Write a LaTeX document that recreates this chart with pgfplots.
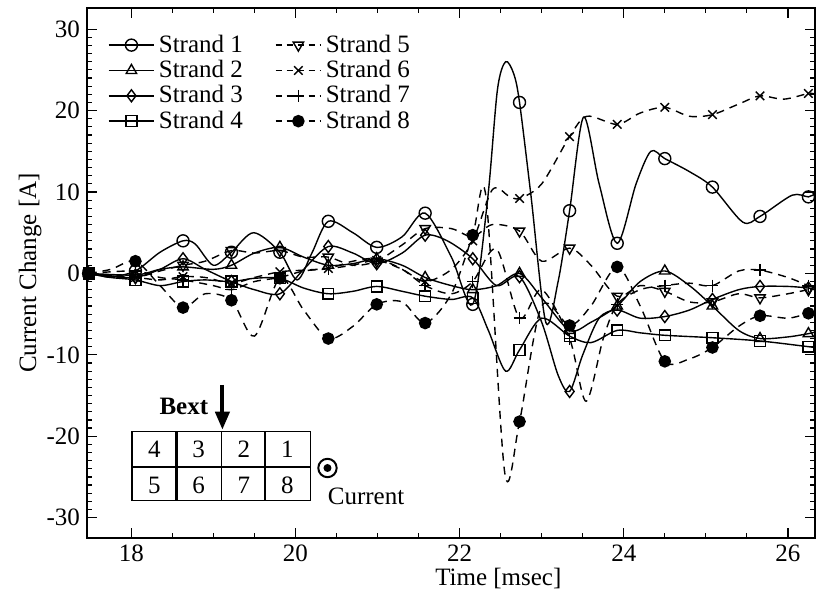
\documentclass[border=0pt]{standalone}
\usepackage{pgfplots}
\pgfplotsset{compat=1.18}
\usepackage{fontspec}
\setmainfont{Liberation Serif}
\usetikzlibrary{arrows.meta}
\begin{document}
\begin{tikzpicture}[font=\fontsize{12.5}{14}\selectfont]
\begin{axis}[
  name=ax,
  scale only axis, width=364pt, height=265pt,
  xmin=17.46, xmax=26.33, ymin=-32.5, ymax=32.6,
  xtick={18,20,22,24,26}, ytick={-30,-20,-10,0,10,20,30},
  minor x tick num=3, minor y tick num=9,
  tick align=inside,
  major tick length=5pt, minor tick length=2.5pt,
  tick style={black, line width=0.6pt},
  axis line style={line width=0.8pt},
  /pgf/number format/assume math mode=true,
  xlabel={Time [msec]}, ylabel={Current Change [A]},
  every axis x label/.style={at={(axis description cs:0.565,0)}, anchor=center, yshift=-20pt},
  every axis y label/.style={at={(axis description cs:-0.078,0.5)}, rotate=90, anchor=center},
  legend columns=2,
  legend style={draw=none, fill=none, at={(axis description cs:0.02,0.965)}, anchor=north west,
    font=\fontsize{12.5}{14}\selectfont, row sep=-1.5pt,
    /tikz/every even column/.append style={column sep=14pt}},
  legend image code/.code={\draw[mark repeat=2,mark phase=2,#1] plot coordinates {(0cm,0cm) (0.4cm,0cm) (0.8cm,0cm)};},
  every axis plot/.append style={line width=0.7pt, black, mark size=3pt},
  clip=true,
]
% legend images (order 1,5,2,6,3,7,4,8 for two columns)
\addlegendimage{black, mark=o, mark size=3pt}\addlegendentry{Strand 1}
\addlegendimage{black, dash pattern=on 3pt off 2.5pt, mark=triangle, mark size=3pt, mark options={solid, rotate=180}}\addlegendentry{Strand 5}
\addlegendimage{black, mark=triangle, mark size=3pt}\addlegendentry{Strand 2}
\addlegendimage{black, dash pattern=on 3pt off 2.5pt, mark=x, mark size=3pt, mark options={solid}}\addlegendentry{Strand 6}
\addlegendimage{black, mark=diamond, mark size=3pt}\addlegendentry{Strand 3}
\addlegendimage{black, dash pattern=on 3pt off 2.5pt, mark=+, mark size=3pt, mark options={solid}}\addlegendentry{Strand 7}
\addlegendimage{black, mark=square, mark size=2.7pt}\addlegendentry{Strand 4}
\addlegendimage{black, dash pattern=on 3pt off 2.5pt, mark=*, mark size=2.8pt, mark options={solid}}\addlegendentry{Strand 8}

% ---------- Strand 1 (circle, solid)
\addplot[smooth, no marks, forget plot] coordinates {
(17.48,0)(17.75,-0.4)(18.05,0.3)(18.35,2.6)(18.63,4.0)(18.78,3.6)(19.0,1.0)(19.22,2.6)(19.49,5.0)(19.81,2.6)(20.02,-0.8)(20.2,2.5)(20.40,6.4)(20.7,5.0)(20.99,3.2)(21.3,4.5)(21.58,7.4)(21.9,2.0)(22.16,-3.8)(22.34,9)(22.46,22.5)(22.56,26)(22.66,24.5)(22.73,21)(22.87,9.5)(23.05,-6)(23.2,-1)(23.34,7.7)(23.51,19.2)(23.7,11)(23.92,3.7)(24.15,11)(24.33,15)(24.5,14.1)(24.8,12.5)(25.08,10.6)(25.45,6.3)(25.66,7.0)(26.05,9.6)(26.25,9.4)(26.33,9.8)};
\addplot[only marks, mark=o, forget plot] coordinates {
(17.48,0)(18.05,0.3)(18.63,4.0)(19.22,2.6)(19.81,2.6)(20.40,6.4)(20.99,3.2)(21.58,7.4)(22.16,-3.8)(22.73,21)(23.34,7.7)(23.92,3.7)(24.50,14.1)(25.08,10.6)(25.66,7.0)(26.25,9.4)};

% ---------- Strand 2 (triangle, solid)
\addplot[smooth, no marks, forget plot] coordinates {
(17.48,0)(18.05,-0.2)(18.35,0.5)(18.63,0.8)(19.0,0.5)(19.22,1.0)(19.5,2.5)(19.81,3.2)(20.1,2.0)(20.40,1.0)(20.7,1.2)(20.99,1.8)(21.3,1.0)(21.58,-0.5)(21.9,-1.5)(22.16,-2.0)(22.45,-1.5)(22.73,0)(23.0,-3)(23.34,-7)(23.6,-6)(23.92,-4)(24.2,-1)(24.5,0.3)(24.8,-1.5)(25.08,-4.0)(25.4,-7.0)(25.66,-8.0)(26.0,-7.8)(26.25,-7.4)(26.33,-7.2)};
\addplot[only marks, mark=triangle, forget plot] coordinates {
(17.48,0)(18.05,-0.2)(18.63,0.8)(19.22,1.0)(19.81,3.2)(20.40,1.0)(20.99,1.8)(21.58,-0.5)(22.16,-2.0)(22.73,0)(23.34,-7)(23.92,-4)(24.50,0.3)(25.08,-4.0)(25.66,-8.0)(26.25,-7.4)};

% ---------- Strand 3 (diamond, solid)
\addplot[smooth, no marks, forget plot] coordinates {
(17.48,0)(17.75,-0.3)(18.05,-0.5)(18.35,0.5)(18.63,1.8)(18.9,0.5)(19.22,-1.0)(19.5,-2.0)(19.81,-2.5)(20.1,0.5)(20.40,3.3)(20.7,2.5)(20.99,1.2)(21.3,2.5)(21.58,4.7)(21.85,4.0)(22.16,1.8)(22.45,-1.5)(22.73,-0.4)(23.0,-6)(23.2,-12.5)(23.34,-14.5)(23.5,-10)(23.7,-5.5)(23.92,-4.5)(24.2,-5.5)(24.5,-5.3)(24.8,-4.5)(25.08,-3.2)(25.4,-2.0)(25.66,-1.6)(26.0,-1.6)(26.25,-1.8)(26.33,-2.0)};
\addplot[only marks, mark=diamond, forget plot] coordinates {
(17.48,0)(18.05,-0.5)(18.63,1.8)(19.22,-1.0)(19.81,-2.5)(20.40,3.3)(20.99,1.2)(21.58,4.7)(22.16,1.8)(22.73,-0.4)(23.34,-14.5)(23.92,-4.5)(24.50,-5.3)(25.08,-3.2)(25.66,-1.6)(26.25,-1.8)};

% ---------- Strand 4 (square, solid)
\addplot[smooth, no marks, forget plot] coordinates {
(17.48,0)(17.75,-0.5)(18.05,-0.8)(18.35,-1.5)(18.63,-1.0)(18.9,-0.8)(19.22,-1.0)(19.5,-0.6)(19.81,-0.6)(20.1,-1.8)(20.40,-2.5)(20.7,-2.2)(20.99,-1.6)(21.3,-2.2)(21.58,-2.8)(21.9,-3.2)(22.16,-3.0)(22.35,-7)(22.56,-12)(22.73,-9.4)(23.0,-5.5)(23.34,-7.7)(23.6,-8.5)(23.92,-7.0)(24.2,-7.3)(24.5,-7.6)(25.08,-7.9)(25.66,-8.3)(26.25,-9.0)(26.33,-9.1)};
\addplot[only marks, mark=square, mark size=2.7pt, forget plot] coordinates {
(17.48,0)(18.05,-0.8)(18.63,-1.0)(19.22,-1.0)(19.81,-0.6)(20.40,-2.5)(20.99,-1.6)(21.58,-2.8)(22.16,-3.0)(22.73,-9.4)(23.34,-7.7)(23.92,-7.0)(24.50,-7.6)(25.08,-7.9)(25.66,-8.3)(26.25,-9.0)};

% ---------- Strand 5 (triangle down, dashed)
\addplot[smooth, no marks, dash pattern=on 4pt off 3pt, forget plot] coordinates {
(17.48,0)(17.75,-0.2)(18.05,-0.5)(18.35,0.3)(18.63,1.0)(18.9,1.5)(19.22,2.8)(19.5,2.5)(19.81,2.8)(20.1,2.0)(20.40,2.0)(20.7,1.0)(20.99,1.5)(21.3,3.5)(21.58,5.5)(21.9,5.5)(22.16,4.5)(22.4,6)(22.73,5.2)(23.0,1.5)(23.34,3.1)(23.6,1.0)(23.92,-2.8)(24.2,-1.5)(24.5,-2.2)(24.8,-3.5)(25.08,-3.5)(25.4,-2.5)(25.66,-3.0)(26.0,-2.5)(26.25,-2.0)(26.33,-2.0)};
\addplot[only marks, mark=triangle, mark options={rotate=180}, forget plot] coordinates {
(17.48,0)(18.05,-0.5)(18.63,1.0)(19.22,2.8)(19.81,2.8)(20.40,2.0)(20.99,1.5)(21.58,5.5)(22.16,4.5)(22.73,5.2)(23.34,3.1)(23.92,-2.8)(24.50,-2.2)(25.08,-3.5)(25.66,-3.0)(26.25,-2.0)};

% ---------- Strand 6 (x, dashed)
\addplot[smooth, no marks, dash pattern=on 4pt off 3pt, forget plot] coordinates {
(17.48,0)(17.75,-0.5)(18.05,-0.5)(18.35,-0.8)(18.63,-0.4)(18.9,-0.5)(19.22,-1.2)(19.5,-0.5)(19.81,0.2)(20.1,0.4)(20.40,0.6)(20.7,1.0)(20.99,1.6)(21.3,0.5)(21.58,-1.0)(21.9,0.5)(22.16,4)(22.4,10.3)(22.6,9.5)(22.73,9.2)(23.0,11)(23.34,16.8)(23.55,19.3)(23.92,18.3)(24.2,19.7)(24.5,20.4)(24.8,19.3)(25.08,19.5)(25.4,20.8)(25.66,21.8)(25.95,21.4)(26.25,22.1)(26.33,22.0)};
\addplot[only marks, mark=x, forget plot] coordinates {
(17.48,0)(18.05,-0.5)(18.63,-0.4)(19.22,-1.2)(19.81,0.2)(20.40,0.6)(20.99,1.6)(21.58,-1.0)(22.16,4)(22.73,9.2)(23.34,16.8)(23.92,18.3)(24.50,20.4)(25.08,19.5)(25.66,21.8)(26.25,22.1)};

% ---------- Strand 7 (+, dashed)
\addplot[smooth, no marks, dash pattern=on 4pt off 3pt, forget plot] coordinates {
(17.48,0)(18.05,0.3)(18.35,-0.5)(18.63,-0.8)(19.0,-1.5)(19.22,-2.0)(19.5,-1.0)(19.81,-0.5)(20.1,0.3)(20.40,0.6)(20.7,1.5)(20.99,1.8)(21.3,0.5)(21.58,-1.5)(21.9,-2.5)(22.16,-1.0)(22.45,3)(22.73,-5.5)(23.0,-2)(23.34,-8)(23.54,-15.7)(23.75,-8)(23.92,-3.8)(24.2,-2.0)(24.5,-1.5)(24.8,-1.2)(25.08,-1.5)(25.4,0.3)(25.66,0.4)(26.0,-0.5)(26.25,-1.5)(26.33,-1.6)};
\addplot[only marks, mark=+, forget plot] coordinates {
(17.48,0)(18.05,0.3)(18.63,-0.8)(19.22,-2.0)(19.81,-0.5)(20.40,0.6)(20.99,1.8)(21.58,-1.5)(22.16,-1.0)(22.73,-5.5)(23.34,-8)(23.92,-3.8)(24.50,-1.5)(25.08,-1.5)(25.66,0.4)(26.25,-1.5)};

% ---------- Strand 8 (filled circle, dashed)
\addplot[smooth, no marks, dash pattern=on 4pt off 3pt, forget plot] coordinates {
(17.48,0)(17.75,0.5)(18.05,1.5)(18.35,-1.5)(18.63,-4.2)(18.9,-2.5)(19.22,-3.3)(19.5,-7.7)(19.81,-0.6)(20.1,-4.5)(20.40,-8.0)(20.7,-6.5)(20.99,-3.8)(21.3,-3.5)(21.58,-6.1)(21.9,-2.5)(22.16,4.7)(22.32,9.5)(22.55,-24.5)(22.73,-18.2)(23.0,-4)(23.34,-6.4)(23.6,-4)(23.92,0.8)(24.2,-4)(24.5,-10.8)(24.8,-10.5)(25.08,-9.1)(25.4,-6.5)(25.66,-5.2)(26.0,-5.5)(26.25,-4.9)(26.33,-4.8)};
\addplot[only marks, mark=*, mark size=2.8pt, forget plot] coordinates {
(17.48,0)(18.05,1.5)(18.63,-4.2)(19.22,-3.3)(19.81,-0.6)(20.40,-8.0)(20.99,-3.8)(21.58,-6.1)(22.16,4.7)(22.73,-18.2)(23.34,-6.4)(23.92,0.8)(24.50,-10.8)(25.08,-9.1)(25.66,-5.2)(26.25,-4.9)};

% ---------- inset: strand arrangement
\draw[line width=0.7pt] (axis cs:18.01,-19.4) rectangle (axis cs:20.18,-27.9);
\draw[line width=0.7pt] (axis cs:18.01,-23.8) -- (axis cs:20.18,-23.8);
\draw[line width=1.1pt] (axis cs:18.55,-19.4) -- (axis cs:18.55,-27.9);
\draw[line width=0.7pt] (axis cs:19.10,-19.4) -- (axis cs:19.10,-27.9);
\draw[line width=1.1pt] (axis cs:19.63,-19.4) -- (axis cs:19.63,-27.9);
\node at (axis cs:18.28,-21.6) {4};
\node at (axis cs:18.82,-21.6) {3};
\node at (axis cs:19.37,-21.6) {2};
\node at (axis cs:19.90,-21.6) {1};
\node at (axis cs:18.28,-26.0) {5};
\node at (axis cs:18.82,-26.0) {6};
\node at (axis cs:19.37,-26.0) {7};
\node at (axis cs:19.90,-26.0) {8};
\draw[line width=2pt, -{Triangle[length=9pt,width=7pt]}] (axis cs:19.11,-13.7) -- (axis cs:19.11,-19.2);
\node[font=\fontsize{12.5}{14}\selectfont\bfseries] at (axis cs:18.64,-16.3) {Bext};
\draw[line width=1pt] (axis cs:20.39,-23.9) circle[radius=4.6pt];
\fill (axis cs:20.39,-23.9) circle[radius=2pt];
\node at (axis cs:20.86,-27.4) {Current};
\end{axis}
\path (ax.south west) ++(-43.5pt,-29pt) (ax.north east) ++(2pt,4pt);
\end{tikzpicture}
\end{document}
